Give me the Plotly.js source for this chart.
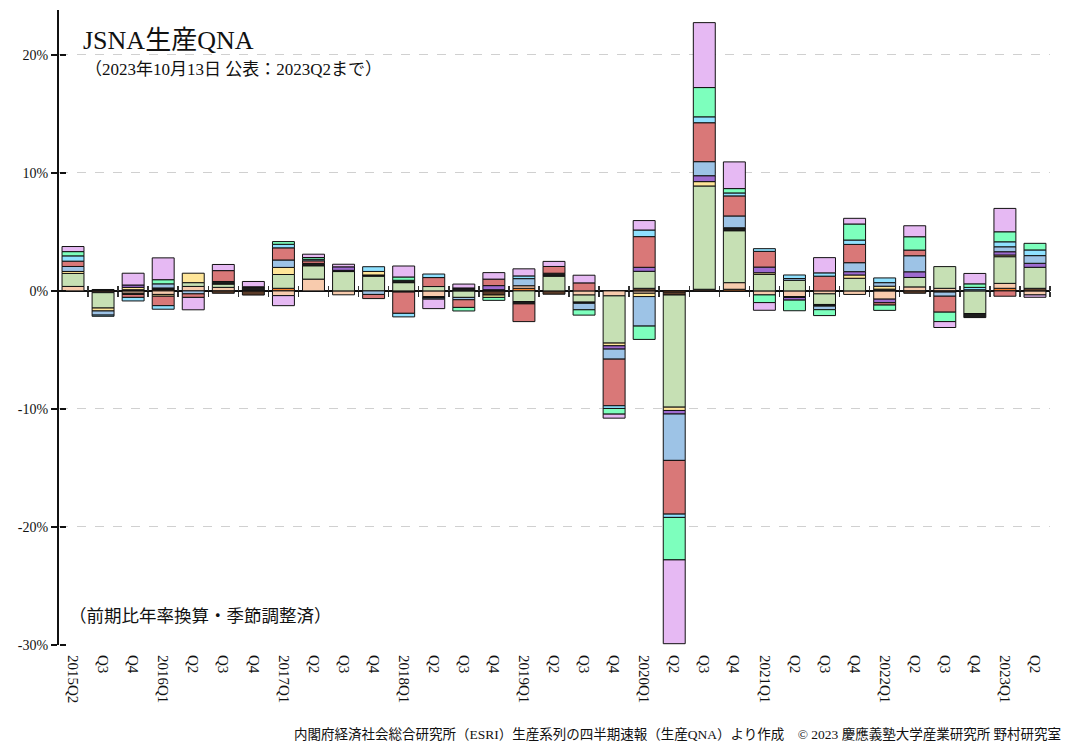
<!DOCTYPE html>
<html><head><meta charset="utf-8">
<script src="https://cdn.plot.ly/plotly-3.0.1.min.js"></script>
<style>html,body{margin:0;padding:0;background:#fff}#chart{width:1068px;height:744px}</style>
</head><body><div id="chart"></div>
<script>
const quarters = ["2015Q2","2015Q3","2015Q4","2016Q1","2016Q2","2016Q3","2016Q4","2017Q1","2017Q2","2017Q3","2017Q4","2018Q1","2018Q2","2018Q3","2018Q4","2019Q1","2019Q2","2019Q3","2019Q4","2020Q1","2020Q2","2020Q3","2020Q4","2021Q1","2021Q2","2021Q3","2021Q4","2022Q1","2022Q2","2022Q3","2022Q4","2023Q1","2023Q2"];
const tickLabels = ["2015Q2","Q3","Q4","2016Q1","Q2","Q3","Q4","2017Q1","Q2","Q3","Q4","2018Q1","Q2","Q3","Q4","2019Q1","Q2","Q3","Q4","2020Q1","Q2","Q3","Q4","2021Q1","Q2","Q3","Q4","2022Q1","Q2","Q3","Q4","2023Q1","Q2"];
const yTickVals = [-30,-20,-10,0,10,20];
const yTickText = ["-30%","-20%","-10%","0%","10%","20%"];

// contributions (percentage points, annualized) by series, 33 quarters
const sOrange   = [0,0,0,0.1,0,0,0,0.22,0,0,0,0,0,0,0,0.22,0,0,0,0,-0.1,0,0.14,0,0,0,0,0,0,0,0,0.22,0];
const sPeach    = [0.38,0,-0.2,-0.3,0.38,0.3,0,-0.4,1.0,-0.33,0,0,-0.48,0,0,0.22,0,-0.35,-0.42,-0.2,0,0,0.56,-0.34,-0.48,-0.25,-0.3,-0.7,0.34,0.22,0,0.42,-0.34];
const sBrown    = [0,-0.15,-0.1,0,0,-0.2,-0.35,0,0,0,0,-0.1,0,0,-0.35,0,-0.28,0,0,0.22,-0.25,0.14,0,0,0,0,0,0,-0.2,-0.1,0,0,0.22];
const sGreen    = [1.1,-1.3,0,0,0.32,0.28,0,1.17,1.13,1.64,1.25,0.7,0.37,-0.55,0,-0.9,1.25,-0.6,-4.0,1.44,-9.5,8.75,4.4,1.4,0.9,-0.9,1.07,0,0.8,1.84,-1.92,2.26,1.78];
const sBlack    = [0,0.12,0.1,0.15,0,0.22,0.35,0,0.2,0.1,0.1,0.2,-0.12,0.25,0.1,-0.2,0.25,-0.1,0,0,0,0,0.25,0,-0.08,-0.14,0,0.15,0,0,-0.34,0,0];
const sYellow   = [0.17,-0.25,0.2,-0.15,0.8,0,0,0.6,0,0,0.3,0,0,0,-0.2,0,0,0,-0.23,-0.28,-0.28,0.37,0,0.14,0,0,0.28,0.25,0,0,0,0.14,0];
const sPurple   = [0,0,0.2,0,0,0,0,0,0,0.3,0,0,0,0,0.35,0,0,0,-0.28,0.34,-0.3,0.5,0,0.48,-0.22,0,0.28,-0.3,0.48,0,0,0.28,0.34];
const sBlue     = [0.42,-0.35,0,0.35,-0.25,0,0,0.63,0,0,-0.3,0,-0.1,-0.2,0,0.6,0,-0.55,-0.85,-2.5,-3.93,1.19,1.0,0,0.15,-0.3,0.76,0.3,1.36,-0.35,0.1,0.42,0.65];
const sRed      = [0.45,0,-0.25,-0.8,-0.3,0.92,0,1.03,0.22,0,-0.35,-1.8,0.76,-0.65,0.55,-1.5,0.57,0.68,-3.95,2.6,-4.55,3.3,1.7,1.33,0,1.25,1.55,-0.2,0.48,-1.35,0,-0.45,0];
const sCyan     = [0.45,-0.1,-0.3,-0.3,0,0,0,0.3,0.13,0,0.4,-0.3,0.3,0,0,0.23,0,0,-0.23,0.56,-0.28,0.5,0.25,0.23,0.3,0.28,0.37,0.4,0,0,0.2,0.42,0.48];
const sMint     = [0.36,0,0,0.35,0,0,0,0.23,0.15,0,0,0.28,0,-0.3,-0.25,0,0,-0.45,-0.48,-1.13,-3.6,2.48,0.37,-0.65,-0.9,-0.5,1.36,-0.45,1.13,-0.8,0.3,0.85,0.56];
const sLavender = [0.43,0,1.0,1.85,-1.05,0.52,0.45,-0.85,0.28,0.22,0,0.93,-0.8,0.33,0.55,0.6,0.43,0.65,-0.34,0.8,-7.1,5.5,2.26,-0.65,0,1.29,0.48,0,0.93,-0.5,0.88,1.98,-0.2];

const seriesNames  = ["s1","s2","s3","s4","s5","s6","s7","s8","s9","s10","s11","s12"];
const seriesValues = [sOrange,sPeach,sBrown,sGreen,sBlack,sYellow,sPurple,sBlue,sRed,sCyan,sMint,sLavender];
const seriesColors = ["#f07c2c","#f8cbad","#5a3b28","#c6e0b4","#1c1c1c","#ffe699","#9e6bd0","#9dc3e6","#d97878","#8fe1ff","#7dffbd","#e6b9f3"];

const serif = "Liberation Serif, Times New Roman, Noto Sans CJK JP, serif";

const traces = seriesValues.map((vals, i) => ({
  type: "bar",
  name: seriesNames[i],
  x: quarters,
  y: vals.map(v => v === 0 ? null : v),
  marker: {color: seriesColors[i], line: {color: "#111", width: 1}},
  hoverinfo: "skip",
  showlegend: false
}));
// empty helper traces so the overlay axes (tick marks crossing the zero line / y axis) get drawn
traces.push({type: "scatter", x: [], y: [], xaxis: "x2", yaxis: "y2", showlegend: false, hoverinfo: "skip"});
traces.push({type: "scatter", x: [], y: [], xaxis: "x3", yaxis: "y", showlegend: false, hoverinfo: "skip"});

const boundaries = quarters.map((q, i) => i + 0.5);
const xr = [-0.466, quarters.length - 0.5];
const yr = [-30, 23.8];
const zeroPos = (0 - yr[0]) / (yr[1] - yr[0]);

const layout = {
  width: 1068, height: 744,
  margin: {l: 59, r: 18, t: 10, b: 99},
  paper_bgcolor: "#fff", plot_bgcolor: "#fff",
  barmode: "relative",
  bargap: 0.27,
  showlegend: false,
  font: {family: serif, color: "#111"},
  xaxis: {
    type: "category", range: xr,
    tickmode: "array", tickvals: quarters, ticktext: tickLabels,
    tickangle: 90, ticks: "outside", ticklen: 6, tickcolor: "rgba(0,0,0,0)",
    showline: false, showgrid: false, zeroline: false,
    tickfont: {family: serif, size: 15, color: "#111"}
  },
  xaxis2: {
    overlaying: "x", anchor: "free", position: zeroPos, side: "bottom",
    range: xr, tickmode: "array", tickvals: boundaries, ticks: "outside", ticklen: 5, tickwidth: 1.5, tickcolor: "#333",
    showticklabels: false, showline: false, showgrid: false, zeroline: false
  },
  xaxis3: {
    overlaying: "x", anchor: "free", position: zeroPos, side: "top",
    range: xr, tickmode: "array", tickvals: boundaries, ticks: "outside", ticklen: 5, tickwidth: 1.5, tickcolor: "#333",
    showticklabels: false, showline: false, showgrid: false, zeroline: false
  },
  yaxis: {
    range: yr, tickmode: "array", tickvals: yTickVals, ticktext: yTickText,
    ticks: "outside", ticklen: 6, tickwidth: 1.5, tickcolor: "#111",
    showline: true, linewidth: 2, linecolor: "#111",
    showgrid: true, gridcolor: "#d0d0d0", griddash: "dash", gridwidth: 1,
    zeroline: true, zerolinecolor: "#111", zerolinewidth: 1.5,
    tickfont: {family: serif, size: 14, color: "#111"}
  },
  yaxis2: {
    overlaying: "y", anchor: "free", position: 0, side: "right",
    range: yr, tickmode: "array", tickvals: yTickVals, ticks: "outside", ticklen: 6, tickwidth: 1.5, tickcolor: "#111",
    showticklabels: false, showline: false, showgrid: false, zeroline: false
  },
  annotations: [
    {text: "JSNA生産QNA", xref: "paper", yref: "paper", x: 0.022, y: 0.952, xanchor: "left", yanchor: "middle",
     showarrow: false, font: {family: serif, size: 26, color: "#111"}},
    {text: "（2023年10月13日 公表：2023Q2まで）", xref: "paper", yref: "paper", x: 0.024, y: 0.906, xanchor: "left", yanchor: "middle",
     showarrow: false, font: {family: serif, size: 17, color: "#111"}},
    {text: "（前期比年率換算・季節調整済）", xref: "paper", yref: "paper", x: 0.008, y: 0.046, xanchor: "left", yanchor: "middle",
     showarrow: false, font: {family: serif, size: 17.5, color: "#111"}},
    {text: "内閣府経済社会総合研究所（ESRI）生産系列の四半期速報（生産QNA）より作成　© 2023 慶應義塾大学産業研究所 野村研究室",
     xref: "paper", yref: "paper", x: 1.013, y: -0.14, xanchor: "right", yanchor: "middle",
     showarrow: false, font: {family: serif, size: 13.5, color: "#111"}}
  ]
};

Plotly.newPlot("chart", traces, layout, {staticPlot: true, displayModeBar: false});
</script>
</body></html>
